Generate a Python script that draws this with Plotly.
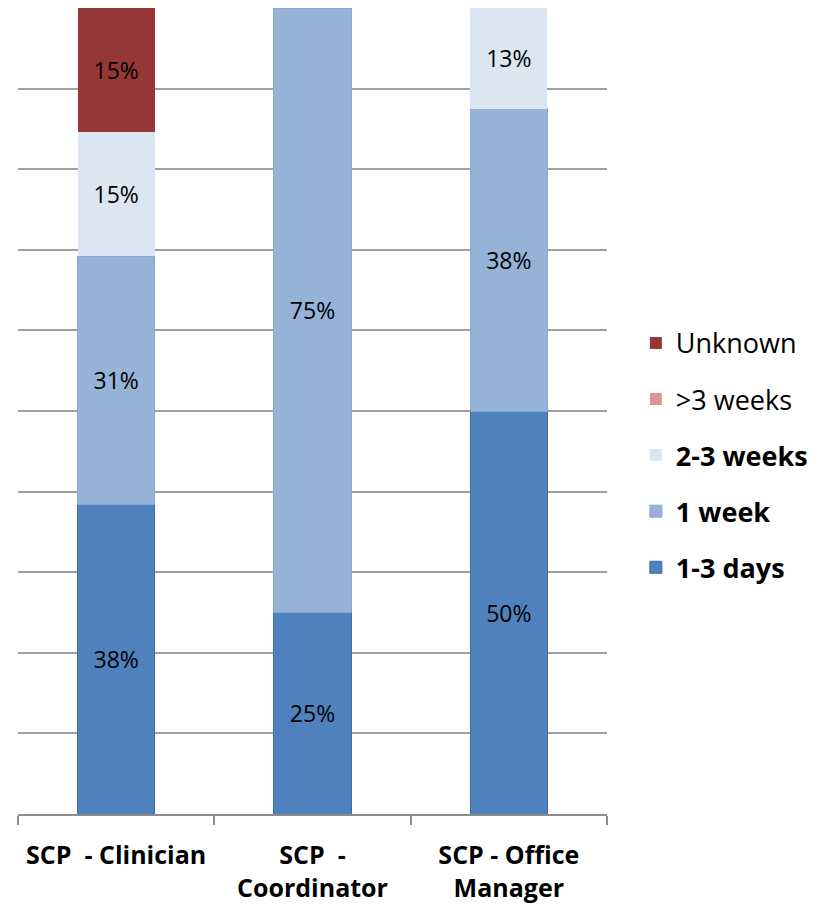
import plotly.graph_objects as go

roles = ["SCP  - Clinician", "SCP  -<br>Coordinator", "SCP - Office<br>Manager"]
series = ["1-3 days", "1 week", "2-3 weeks", ">3 weeks", "Unknown"]
# share of respondents per role (%)
days_1_3 = [38.46, 25.0, 50.0]
week_1 = [30.77, 75.0, 37.5]
weeks_2_3 = [15.38, 0, 12.5]
weeks_3_plus = [0, 0, 0]
unknown = [15.38, 0, 0]
labels = [
    ["38%", "25%", "50%"],
    ["31%", "75%", "38%"],
    ["15%", "", "13%"],
    ["", "", ""],
    ["15%", "", ""],
]

values = [days_1_3, week_1, weeks_2_3, weeks_3_plus, unknown]
colors = ["#4F81BD", "#95B3D7", "#DCE6F2", "#D99694", "#953735"]
edges = ["#3D6DA6", "#8AA8CE", "#DCE6F2", "#D99694", "#953735"]
edge_w = [1, 1, 0, 0, 0]
bold = [True, True, True, False, False]

font = "Open Sans, DejaVu Sans, sans-serif"

fig = go.Figure()
for i, (name, vals, txt, col, edge, w, b) in enumerate(zip(series, values, labels, colors, edges, edge_w, bold)):
    fig.add_trace(go.Bar(
        x=roles, y=vals, name="<b>%s</b>" % name if b else name,
        legendgroup=name, legendrank=len(series) - i,
        marker=dict(color=col, line=dict(color=edge, width=w)),
        text=txt, texttemplate="%{text}", textposition="inside",
        insidetextanchor="middle", constraintext="none",
        textfont=dict(color="black", size=23, family=font),
    ))

fig.update_layout(
    barmode="stack", bargap=0.607,
    width=824, height=911,
    margin=dict(l=10, r=225, t=0, b=105),
    paper_bgcolor="white", plot_bgcolor="white",
    font=dict(family=font, color="black"),
    legend=dict(x=1.049, xanchor="left", y=0.445, yanchor="middle",
                traceorder="grouped", tracegroupgap=18,
                font=dict(size=27, family=font)),
)
fig.update_xaxes(showline=True, linecolor="#8C8C8C", linewidth=2,
                 ticks="outside", tickson="boundaries", ticklen=9, tickcolor="#8C8C8C",
                 tickwidth=2, ticklabelstandoff=18, tickangle=0,
                 tickfont=dict(size=25, family=font, weight="bold"), showgrid=False)
fig.update_yaxes(range=[0, 100], dtick=10, showgrid=True, gridcolor="#A0A0A0",
                 gridwidth=2, showticklabels=False, zeroline=False, showline=False)

fig.write_html("out.html")
